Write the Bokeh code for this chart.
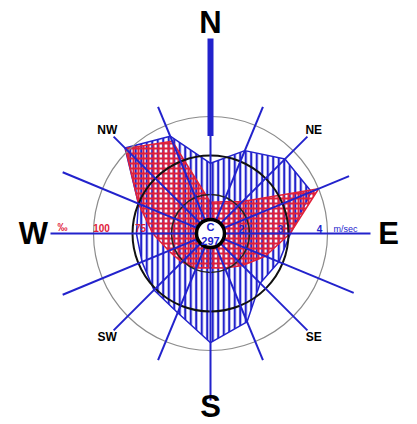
import numpy as np
from bokeh.plotting import figure
from bokeh.models import Range1d
from bokeh.core.properties import value
from bokeh.embed import file_html
from bokeh.resources import INLINE

# ---------------- data ----------------
directions = ["N", "NNE", "NE", "ENE", "E", "ESE", "SE", "SSE",
              "S", "SSW", "SW", "WSW", "W", "WNW", "NW", "NNW"]
# frequency (per mille) - red cross-hatched polygon
freq_permille = [45, 47, 54, 100, 76, 63, 54, 49, 47, 49, 51, 54, 62, 75, 102, 89]
# mean wind speed (m/sec) - blue vertically hatched polygon
speed_ms = [2.8, 3.3, 3.7, 3.8, 3.05, 2.9, 2.8, 3.45, 3.8, 3.2, 3.05, 2.9, 2.9, 3.0, 4.1, 3.7]
# north spike (m/sec range)
north_spike_ms = [3.5, 6.0]
calm_count = 297
freq_ring_labels = ["75", "100", "‰"]
freq_ring_values = [75, 100, 125]
speed_ring_labels = ["2", "3", "4"]
speed_ring_values = [2, 3, 4]
cardinal_labels = ["N", "E", "S", "W"]
intercardinal_labels = ["NE", "SE", "SW", "NW"]

# ---------------- scales ----------------
RING = 39.0  # px per ring


def r_freq(v):
    return (np.asarray(v, dtype=float) - 25.0) / 25.0 * RING


def r_speed(v):
    return (np.asarray(v, dtype=float) - 1.0) * RING


ang = np.deg2rad(np.arange(16) * 22.5)


def polar(r, a):
    return np.asarray(r) * np.sin(a), np.asarray(r) * np.cos(a)


p = figure(width=417, height=424, x_range=Range1d(-210, 207), y_range=Range1d(-191, 233),
           x_axis_type=None, y_axis_type=None, toolbar_location=None,
           output_backend="svg", min_border=0)
p.grid.visible = False
p.outline_line_color = None
p.background_fill_color = "white"

BLUE = "#2222cc"
RED = "#e0203a"

# blue polygon (speed)
bx, by = polar(r_speed(speed_ms), ang)
p.patch(list(bx), list(by), fill_color="white", fill_alpha=0.0,
        hatch_pattern="|", hatch_color=BLUE, hatch_scale=5.5, hatch_weight=2.2,
        line_color=BLUE, line_width=1.5)

# red polygon (frequency)
rx, ry = polar(r_freq(freq_permille), ang)
p.patch(list(rx), list(ry), fill_alpha=0.0,
        hatch_pattern="+", hatch_color=RED, hatch_scale=5, hatch_weight=2,
        line_color=RED, line_width=1.5)

# rings
p.circle(x=[0], y=[0], radius=RING, fill_color=None, line_color="#222222", line_width=1.5)
p.circle(x=[0], y=[0], radius=2 * RING, fill_color=None, line_color="#111111", line_width=2)
p.circle(x=[0], y=[0], radius=3 * RING, fill_color=None, line_color="#8c8c8c", line_width=1.2)

# spokes
spoke_len = np.array([98, 137, 137, 150, 160, 155, 137, 137,
                      167, 137, 137, 160, 160, 160, 137, 137], dtype=float)
x0, y0 = polar(np.full(16, 14.0), ang)
x1, y1 = polar(spoke_len, ang)
p.segment(x0=list(x0), y0=list(y0), x1=list(x1), y1=list(y1), line_color=BLUE, line_width=2)

# north spike
sr = r_speed(north_spike_ms)
p.segment(x0=[0], y0=[sr[0]], x1=[0], y1=[sr[1]], line_color=BLUE, line_width=6)

# calm circle
p.circle(x=[0], y=[0], radius=14, fill_color="white", line_color="black", line_width=3.5)
p.text(x=[0, 0], y=[7, -7], text=["C", str(calm_count)], text_color=BLUE,
       text_font=value("Liberation Sans"), text_font_style="bold", text_font_size="11px",
       text_align="center", text_baseline="middle")

# ring labels (W side: frequency, E side: speed)
fr = r_freq(freq_ring_values) - 8
p.text(x=list(-fr), y=[6] * 3, text=freq_ring_labels, text_color=RED,
       text_font=value("Liberation Sans"), text_font_style="bold", text_font_size="10px",
       text_align="center", text_baseline="middle")
sp = r_speed(speed_ring_values) - 8
p.text(x=list(sp), y=[5] * 3, text=speed_ring_labels, text_color=BLUE,
       text_font=value("Liberation Sans"), text_font_style="bold", text_font_size="10px",
       text_align="center", text_baseline="middle")
p.text(x=[r_speed(4) + 6], y=[5], text=["m/sec"], text_color=BLUE,
       text_font=value("Liberation Sans"), text_font_size="9px",
       text_align="left", text_baseline="middle")

# compass labels
cx, cy = polar(np.array([211, 178, 173, 177]), np.deg2rad([0, 90, 180, 270]))
p.text(x=list(cx), y=list(cy), text=cardinal_labels, text_color="black",
       text_font=value("Liberation Sans"), text_font_style="bold", text_font_size="31px",
       text_align="center", text_baseline="middle")
ix, iy = polar(np.full(4, 146.0), np.deg2rad([45, 135, 225, 315]))
p.text(x=list(ix), y=list(iy), text=intercardinal_labels, text_color="black",
       text_font=value("Liberation Sans"), text_font_style="bold", text_font_size="12px",
       text_align="center", text_baseline="middle")

open("out.html", "w").write(file_html(p, INLINE))
